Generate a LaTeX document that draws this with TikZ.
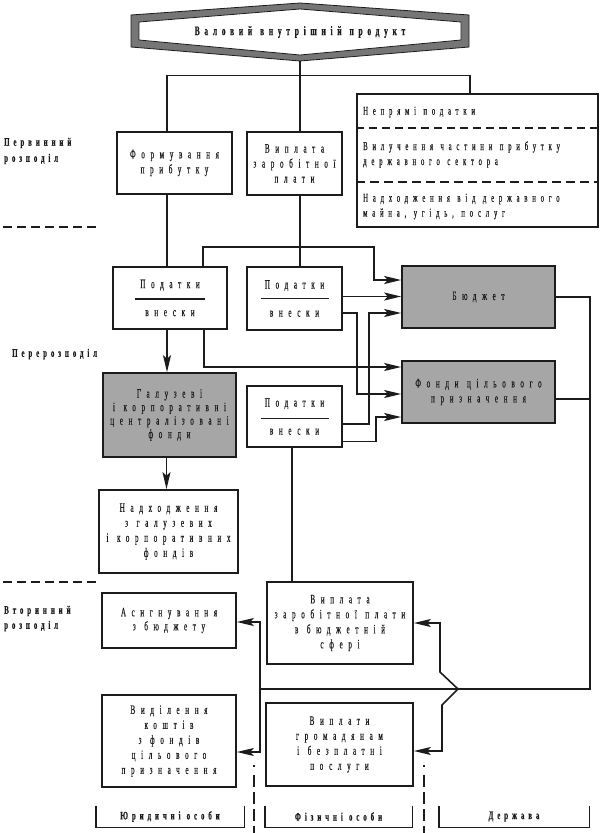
\documentclass[tikz,border=0pt]{standalone}
\usepackage{fontspec}
\setmainfont{Liberation Serif}[FakeStretch=0.56,LetterSpace=44,WordSpace=1.15,FakeBold=0.3]
\newfontfamily\labfont{Liberation Serif}[FakeStretch=0.6,LetterSpace=34,WordSpace=1.1,FakeBold=0.5]
\newfontfamily\ttlfont{Liberation Serif}[FakeStretch=0.58,LetterSpace=36,WordSpace=1.2,FakeBold=0.5]
\usetikzlibrary{arrows.meta}
\definecolor{boxgray}{RGB}{166,166,166}
\definecolor{bandgray}{RGB}{118,118,118}
\definecolor{ink}{RGB}{28,28,28}
\begin{document}
\begin{tikzpicture}[x=1pt,y=-1pt,
  box/.style={draw=ink, line width=1.7pt, inner sep=0pt, align=center, text=ink,
    font={\fontsize{12.8}{15}\selectfont}},
  gbox/.style={box, fill=boxgray},
  txt/.style={inner sep=0pt, text=ink, align=left, font={\fontsize{12}{15}\selectfont\addfontfeature{LetterSpace=40}}},
  lab/.style={inner sep=0pt, text=ink, anchor=west, font={\labfont\bfseries\fontsize{11.5}{14}\selectfont}},
  botlab/.style={inner sep=0pt, text=ink, minimum height=21pt, font={\labfont\bfseries\fontsize{11.5}{14}\selectfont}},
  thin/.style={draw=ink, line width=1.2pt},
  conn/.style={draw=ink, line width=1.6pt},
  arr/.style={conn, -{Stealth[length=17pt,width=8pt,inset=3.5pt]}},
  sepdash/.style={draw=ink, line width=1.5pt, dash pattern=on 9pt off 5pt},
  dashdot/.style={draw=ink, line width=1.5pt, dash pattern=on 2pt off 8pt on 12pt off 5pt on 12pt off 5pt on 12pt off 5pt on 12pt off 5pt}
]
\useasboundingbox (0,0) rectangle (600,833);

% --- title hexagon
\filldraw[fill=bandgray, draw=ink, line width=0.8pt] (131,15) -- (300,3) -- (469,15) -- (469,47) -- (300,61) -- (131,47) -- cycle;
\filldraw[fill=white, draw=ink, line width=0.8pt] (139,22) -- (300,9) -- (461,22) -- (461,40) -- (300,55) -- (139,40) -- cycle;
\node[inner sep=0pt, text=ink, font={\ttlfont\bfseries\fontsize{13}{14}\selectfont}] (gdp) at (300,32) {Валовий внутрішній продукт};
\coordinate (gdpb) at (300,61);
\coordinate (j0) at (300,76);

% --- primary level
\node[box, minimum width=115pt, minimum height=62pt] (form) at (174.5,163) {Формування\\прибутку};
\node[box, minimum width=95pt, minimum height=63pt] (vypl) at (294.5,163.5) {Виплата\\заробітної\\плати};
\node[draw=ink, line width=1.3pt, minimum width=241pt, minimum height=133pt, inner sep=0pt] (nepr) at (477.5,160.5) {};
\draw[draw=ink, line width=1.4pt, dash pattern=on 8pt off 5pt] ([yshift=32.5pt]nepr.west) -- ([yshift=32.5pt]nepr.east);
\draw[draw=ink, line width=2pt, dash pattern=on 9pt off 5pt] ([yshift=-21.5pt]nepr.west) -- ([yshift=-21.5pt]nepr.east);
\node[txt, anchor=west] (n1) at (363,112) {Непрямі податки};
\node[txt, anchor=west] (n2) at (363,154.5) {Вилучення частини прибутку\\державного сектора};
\node[txt, anchor=west] (n3) at (363,206.5) {Надходження від державного\\майна, угідь, послуг};

% --- redistribution level
\node[box, minimum width=114pt, minimum height=62pt] (pod1) at (170,298) {Податки\\[13pt]внески};
\node[box, minimum width=95pt, minimum height=63pt] (pod2) at (294.5,298.5) {Податки\\[13pt]внески};
\node[box, minimum width=95pt, minimum height=61pt] (pod3) at (294.5,416.5) {Податки\\[13pt]внески};
\draw[draw=ink, line width=1.5pt] ([xshift=-35pt,yshift=-1pt]pod1.center) -- ([xshift=35pt,yshift=-1pt]pod1.center);
\draw[draw=ink, line width=1.5pt] ([xshift=-34pt]pod2.center) -- ([xshift=34pt]pod2.center);
\draw[draw=ink, line width=1.5pt] ([xshift=-34pt,yshift=-2pt]pod3.center) -- ([xshift=34pt,yshift=-2pt]pod3.center);
\node[gbox, minimum width=153pt, minimum height=62pt] (budg) at (478.5,297) {Бюджет};
\node[gbox, minimum width=153pt, minimum height=62pt] (fond) at (478.5,392) {Фонди цільового\\призначення};
\node[gbox, minimum width=133pt, minimum height=84pt, font={\fontsize{12.8}{13.5}\selectfont}] (galuz) at (169.5,415) {Галузеві\\і корпоративні\\централізовані\\фонди};
\node[box, minimum width=139pt, minimum height=83pt] (nadh) at (168.5,531.5) {Надходження\\з галузевих\\і корпоративних\\фондів};

% --- secondary level
\node[box, minimum width=146pt, minimum height=82pt] (vypl2) at (340,623) {Виплата\\заробітної плати\\в бюджетній\\сфері};
\node[box, minimum width=134pt, minimum height=55pt, font={\fontsize{12.8}{14}\selectfont}] (asig) at (169,620.5) {Асигнування\\з бюджету};
\node[box, minimum width=134pt, minimum height=92pt] (vyd) at (169,741) {Виділення\\коштів\\з фондів\\цільового\\призначення};
\node[box, minimum width=147pt, minimum height=83pt] (gromad) at (339.5,744.5) {Виплати\\громадянам\\і безплатні\\послуги};

% --- left labels and separators
\node[lab] (l1) at (4,143) {Первинний};
\node[lab] (l2) at (4,159) {розподіл};
\node[lab] (l3) at (12,354) {Перерозподіл};
\node[lab] (l4) at (4,611) {Вторинний};
\node[lab] (l5) at (4,626) {розподіл};
\draw[sepdash] (3,227) -- (100,227);
\draw[sepdash] (3,582) -- (100,582);

% --- bottom labels
\node[botlab, minimum width=148pt] (jur) at (170,816.5) {Юридичні особи};
\node[botlab, minimum width=147pt] (fiz) at (338.5,816.5) {Фізичні особи};
\node[botlab, minimum width=150pt] (derzh) at (514,816.5) {Держава};
\foreach \n in {jur,fiz,derzh}{
  \draw[draw=ink, line width=1.4pt] (\n.north west) -- (\n.south west) -- (\n.south east) -- (\n.north east);
}
\draw[dashdot] (254,765) -- (254,833);
\draw[dashdot] (424,765) -- (424,833);

% --- connectors from the top
\draw[thin] (gdpb) -- (j0);
\draw[thin] ([xshift=-7.5pt]form.north) -- ++(0,-56) -| ([xshift=-7.5pt]nepr.north);
\draw[thin] ([xshift=5.5pt]vypl.north) -- ([xshift=5.5pt]vypl.north |- j0);
\draw[thin] ([xshift=-7.5pt]form.south) -- ([xshift=-7.5pt]form.south |- pod1.north);
\draw[thin] ([xshift=5.5pt]vypl.south) -- ([xshift=5.5pt]vypl.south |- pod2.north);

% --- redistribution arrows
\draw[arr] ([xshift=33pt]pod1.north) -- ++(0,-19) -- ++(171,0) |- ([yshift=17pt]budg.west);
\draw[arr] ([xshift=-3pt]pod1.south) -- ([xshift=-3pt]pod1.south |- galuz.north);
\draw[arr] ([xshift=34pt]pod1.south) |- ([yshift=25pt]fond.west);
\draw[arr] ([yshift=2pt]pod2.east) -- ([yshift=2pt]pod2.east -| budg.west);
\draw[arr] ([yshift=-14.5pt]pod2.east) -- ++(14,0) |- ([yshift=-2pt]fond.west);
\draw[arr] ([yshift=-7.5pt]pod3.east) -- ++(26,0) |- ([yshift=-16pt]budg.west);
\draw[arr] ([yshift=-25pt]pod3.east) -- ++(33,0) |- ([yshift=-25pt]fond.west);
\draw[arr] ([xshift=-3pt]galuz.south) -- ([xshift=-3pt]galuz.south |- nadh.north);
\draw[conn] ([xshift=-2.5pt]pod3.south) -- ([xshift=-2.5pt]pod3.south |- vypl2.north);

% --- budget / funds to secondary
\coordinate (rc) at (590,689);
\coordinate (lc) at (260,689);
\coordinate (zk) at (458,689);
\draw[conn] (budg.east) -| (rc) -- (lc);
\draw[conn] ([yshift=-7pt]fond.east) -- ([yshift=-7pt]fond.east -| rc);
\draw[arr] (lc) |- ([yshift=-1.5pt]asig.east);
\draw[arr] (lc) |- ([yshift=-11pt]vyd.east);
\draw[arr] (zk) -- ++(-18,-17) |- (vypl2.east);
\draw[arr] (zk) -- ++(-16,16) |- ([yshift=-6.5pt]gromad.east);
\end{tikzpicture}
\end{document}
